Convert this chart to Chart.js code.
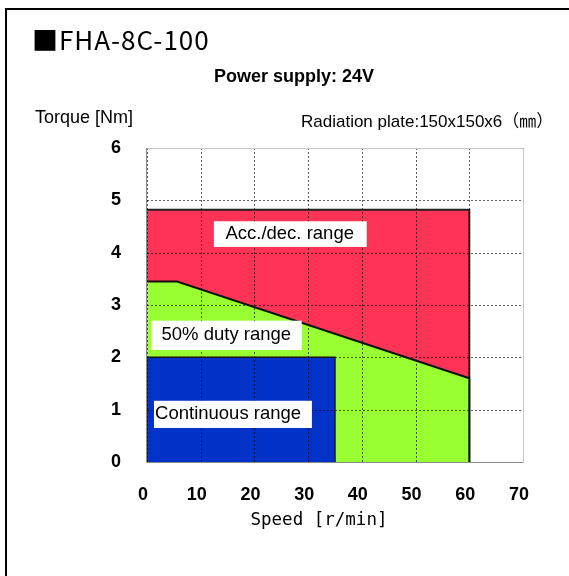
<!DOCTYPE html>
<html><head><meta charset="utf-8">
<script src="https://cdn.jsdelivr.net/npm/chart.js@4/dist/chart.umd.min.js"></script>
<style>
html,body{margin:0;padding:0;background:#fff;}
#wrap{position:relative;width:569px;height:576px;overflow:hidden;}
#frameTop{position:absolute;left:5px;top:8px;width:564px;height:2px;background:#000;}
#frameLeft{position:absolute;left:5px;top:8px;width:2px;height:568px;background:#000;}
.t{position:absolute;white-space:nowrap;color:#000;}
#model{left:32px;top:24px;font:26px "Noto Sans CJK JP","DejaVu Sans",sans-serif;line-height:30px;letter-spacing:1px;}
#supply{left:0;width:588px;text-align:center;top:66px;font:bold 18px "Liberation Sans",Arial,sans-serif;}
#ylab{left:35px;top:107px;font:18px "Liberation Sans",Arial,sans-serif;}
#plate{left:301px;top:107px;font:17px "Liberation Sans",Arial,"Noto Sans CJK JP",sans-serif;}
#xlab{left:0;width:638px;text-align:center;top:509px;font:17.5px "DejaVu Sans Mono",monospace;}
canvas{position:absolute;left:0;top:0;}
</style></head>
<body><div id="wrap">
<canvas id="c" width="569" height="576"></canvas>
<div id="frameTop"></div><div id="frameLeft"></div>
<div class="t" id="model">■FHA-8C-100</div>
<div class="t" id="supply">Power supply: 24V</div>
<div class="t" id="ylab">Torque [Nm]</div>
<div class="t" id="plate">Radiation plate:150x150x6<span style="font-family:'Noto Sans CJK JP'">（㎜）</span></div>
<div class="t" id="xlab">Speed [r/min]</div>
</div>
<script>
// Data (speed r/min, torque Nm)
const accSpeed   = [0, 60, 60];
const accTorque  = [4.82, 4.82, 0];
const dutySpeed  = [0, 5.6, 60, 60];
const dutyTorque = [3.45, 3.45, 1.6, 0];
const contSpeed  = [0, 35, 35];
const contTorque = [2.0, 2.0, 0];
const xTicks = [0, 10, 20, 30, 40, 50, 60, 70];
const yTicks = [0, 1, 2, 3, 4, 5, 6];
// Region labels: [text, text-left speed, centre torque, box left speed, box right speed, box top torque, box bottom torque]
const regionLabels = [
  ["Acc./dec. range", 14.6, 4.36, 12.45, 40.9, 4.6, 4.11],
  ["50% duty range", 2.7, 2.42, 0.74, 28.8, 2.7, 2.14],
  ["Continuous range", 1.5, 0.91, 1.3, 30.7, 1.17, 0.65]
];

const pts = (xs, ys) => xs.map((x, i) => ({x: x, y: ys[i]}));

// dotted grid drawn over the filled regions, at the scales' tick positions
const gridOnTop = {
  id: 'gridOnTop',
  afterDatasetsDraw(chart) {
    const ctx = chart.ctx, xs = chart.scales.x, ys = chart.scales.y, a = chart.chartArea;
    ctx.save();
    ctx.strokeStyle = 'rgba(0,0,0,0.62)';
    ctx.lineWidth = 1;
    ctx.setLineDash([2, 2]);
    xs.ticks.forEach(t => {
      const px = Math.round(xs.getPixelForValue(t.value)) + 0.5;
      ctx.beginPath(); ctx.moveTo(px, a.top); ctx.lineTo(px, a.bottom); ctx.stroke();
    });
    ys.ticks.forEach(t => {
      const py = Math.round(ys.getPixelForValue(t.value)) + 0.5;
      ctx.beginPath(); ctx.moveTo(a.left, py); ctx.lineTo(a.right, py); ctx.stroke();
    });
    ctx.restore();
  },
  afterDraw(chart) {
    const ctx = chart.ctx, xs = chart.scales.x, ys = chart.scales.y, a = chart.chartArea;
    ctx.save();
    ctx.lineWidth = 1;
    ctx.strokeStyle = '#c8c8c8';
    ctx.beginPath();
    ctx.moveTo(a.left, a.top + 0.5); ctx.lineTo(a.right + 0.5, a.top + 0.5); ctx.lineTo(a.right + 0.5, a.bottom);
    ctx.stroke();
    ctx.strokeStyle = '#8a8a8a';
    ctx.beginPath();
    ctx.moveTo(a.left - 0.5, a.top); ctx.lineTo(a.left - 0.5, a.bottom + 0.5); ctx.lineTo(a.right + 0.5, a.bottom + 0.5);
    ctx.stroke();
    ctx.font = '18.5px "Liberation Sans", Arial, sans-serif';
    ctx.textBaseline = 'middle';
    ctx.textAlign = 'left';
    regionLabels.forEach(l => {
      const x0 = xs.getPixelForValue(l[3]), x1 = xs.getPixelForValue(l[4]);
      const y0 = ys.getPixelForValue(l[5]), y1 = ys.getPixelForValue(l[6]);
      ctx.fillStyle = '#fff';
      ctx.fillRect(x0, y0, x1 - x0, y1 - y0);
      ctx.fillStyle = '#000';
      ctx.fillText(l[0], xs.getPixelForValue(l[1]), ys.getPixelForValue(l[2]));
    });
    ctx.restore();
  }
};

new Chart(document.getElementById('c'), {
  type: 'line',
  data: {
    datasets: [
      {label: 'Continuous range', data: pts(contSpeed, contTorque), backgroundColor: '#0232C8', borderColor: '#1a1a1a', borderWidth: 1.5, fill: 'origin', pointRadius: 0, tension: 0, order: 1},
      {label: '50% duty range', data: pts(dutySpeed, dutyTorque), backgroundColor: '#99FF33', borderColor: '#111', borderWidth: 2, fill: 'origin', pointRadius: 0, tension: 0, order: 2},
      {label: 'Acc./dec. range', data: pts(accSpeed, accTorque), backgroundColor: '#FF3355', borderColor: '#222', borderWidth: 2, fill: 'origin', pointRadius: 0, tension: 0, order: 3}
    ]
  },
  options: {
    responsive: false,
    animation: false,
    events: [],
    layout: {padding: {top: 148, right: 46, left: 0, bottom: 0}},
    plugins: {legend: {display: false}, tooltip: {enabled: false}, title: {display: false}},
    scales: {
      x: {
        type: 'linear', min: 0, max: 70,
        afterBuildTicks: s => { s.ticks = xTicks.map(v => ({value: v})); },
        afterFit: s => { s.height = 114; },
        grid: {display: false, drawTicks: false},
        border: {display: false},
        ticks: {color: '#000', padding: 22, labelOffset: -4, font: {family: '"Liberation Sans", Arial, sans-serif', size: 18, weight: 'bold'}, maxRotation: 0}
      },
      y: {
        min: 0, max: 6,
        afterBuildTicks: s => { s.ticks = yTicks.map(v => ({value: v})); },
        afterFit: s => { s.width = 147; },
        grid: {display: false, drawTicks: false},
        border: {display: false},
        ticks: {color: '#000', padding: 26, font: {family: '"Liberation Sans", Arial, sans-serif', size: 18, weight: 'bold'}}
      }
    }
  },
  plugins: [gridOnTop]
});
</script>
</body></html>
